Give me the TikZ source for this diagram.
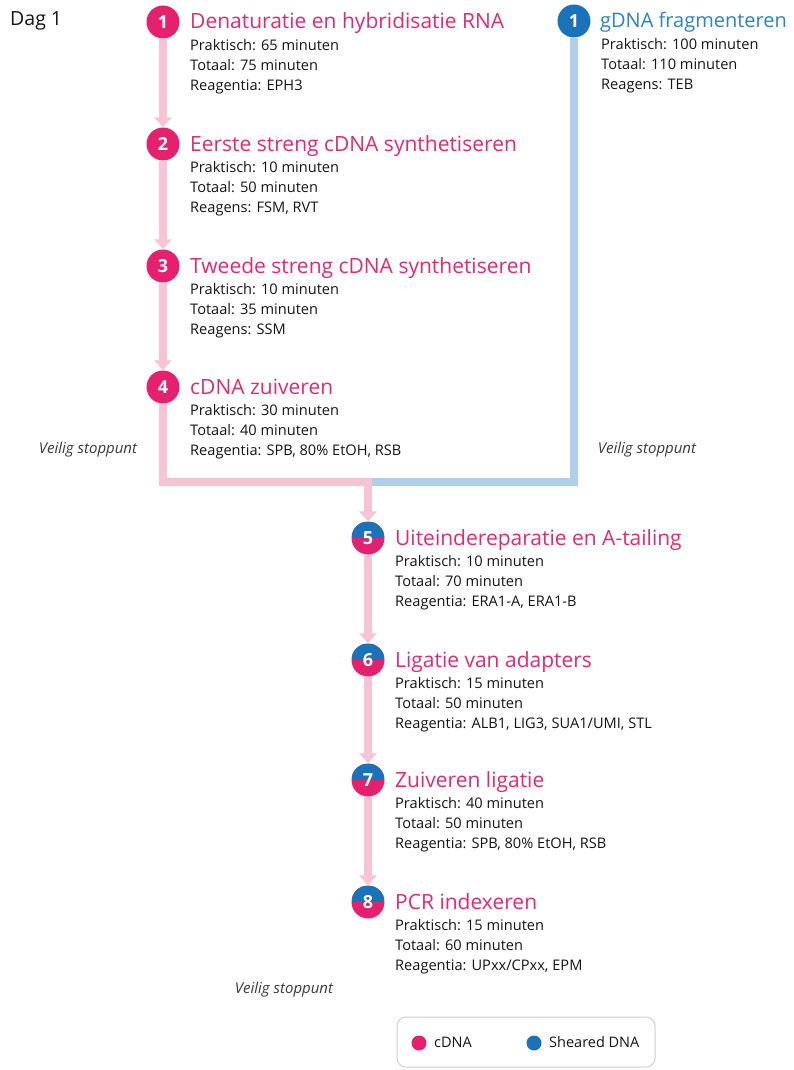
\documentclass[tikz,border=0pt]{standalone}
\usepackage{fontspec}
\setmainfont{Open Sans}
\usetikzlibrary{arrows.meta,backgrounds}
\definecolor{pinkC}{HTML}{E4206F}
\definecolor{blueC}{HTML}{1A73BA}
\definecolor{pinkT}{HTML}{DE2A74}
\definecolor{blueT}{HTML}{2B82C5}
\definecolor{pinkL}{HTML}{F7C4D4}
\definecolor{blueL}{HTML}{AFD0EC}
\definecolor{txt}{HTML}{141414}
\definecolor{graytxt}{HTML}{3A3A3A}
\definecolor{legbord}{HTML}{D0D0D0}
\tikzset{
  numc/.style={circle, minimum size=33pt, inner sep=0pt, text=white, font=\fontsize{18}{18}\selectfont\bfseries},
  pinkcirc/.style={numc, fill=pinkC},
  bluecirc/.style={numc, fill=blueC},
  halfcirc/.style={numc, fill=pinkC, path picture={\fill[blueC] (path picture bounding box.north west) rectangle (path picture bounding box.east);}},
  titletxt/.style={anchor=base west, inner sep=0pt, font=\fontsize{21}{21}\selectfont},
  pinktitle/.style={text=pinkT},
  bluetitle/.style={text=blueT, font=\fontsize{20}{20}\selectfont, xshift=-1pt},
  detailtxt/.style={anchor=north west, inner sep=0pt, align=left, text=txt, font=\fontsize{14.6}{20}\selectfont},
  pinkline/.style={draw=pinkL, line width=8pt, line join=miter},
  blueline/.style={draw=blueL, line width=8pt, line join=miter},
  arr/.style={-{Triangle[width=17pt,length=10pt]}},
  stoptxt/.style={text=graytxt, font=\fontsize{15}{15}\selectfont\itshape, inner sep=0pt},
  legtxt/.style={anchor=west, inner sep=0pt, text=txt, font=\fontsize{14.5}{14}\selectfont},
  legdot/.style={circle, minimum size=15pt, inner sep=0pt},
}
\newcommand{\stepnode}[9]{%
  \node[#4] (#1) at (#2,#3) {#5};
  \node[titletxt, #6] (#1t) at (#2+27,#3+7) {#7};
  \node[detailtxt] (#1d) at (#2+27,#3+17) {#8\\#9};
}
\begin{document}
\begin{tikzpicture}[x=1pt,y=-1pt]
\useasboundingbox (0,0) rectangle (794,1070);
\node[anchor=west, inner sep=0pt, text=txt, font=\fontsize{19.5}{19.5}\selectfont] (dag) at (10,21) {Dag 1};

\stepnode{c1}{163}{22}{pinkcirc}{1}{pinktitle}{Denaturatie en hybridisatie RNA}{Praktisch: 65 minuten\\Totaal: 75 minuten}{Reagentia: EPH3}
\stepnode{c2}{163}{144}{pinkcirc}{2}{pinktitle}{Eerste streng cDNA synthetiseren}{Praktisch: 10 minuten\\Totaal: 50 minuten}{Reagens: FSM, RVT}
\stepnode{c3}{163}{266}{pinkcirc}{3}{pinktitle}{Tweede streng cDNA synthetiseren}{Praktisch: 10 minuten\\Totaal: 35 minuten}{Reagens: SSM}
\stepnode{c4}{163}{387}{pinkcirc}{4}{pinktitle}{cDNA zuiveren}{Praktisch: 30 minuten\\Totaal: 40 minuten}{Reagentia: SPB, 80\% EtOH, RSB}
\stepnode{b1}{574}{21}{bluecirc}{1}{bluetitle}{gDNA fragmenteren}{Praktisch: 100 minuten\\Totaal: 110 minuten}{Reagens: TEB}
\stepnode{c5}{368}{538}{halfcirc}{5}{pinktitle}{Uiteindereparatie en A-tailing}{Praktisch: 10 minuten\\Totaal: 70 minuten}{Reagentia: ERA1-A, ERA1-B}
\stepnode{c6}{368}{660}{halfcirc}{6}{pinktitle}{Ligatie van adapters}{Praktisch: 15 minuten\\Totaal: 50 minuten}{Reagentia: ALB1, LIG3, SUA1/UMI, STL}
\stepnode{c7}{368}{780}{halfcirc}{7}{pinktitle}{Zuiveren ligatie}{Praktisch: 40 minuten\\Totaal: 50 minuten}{Reagentia: SPB, 80\% EtOH, RSB}
\stepnode{c8}{368}{902}{halfcirc}{8}{pinktitle}{PCR indexeren}{Praktisch: 15 minuten\\Totaal: 60 minuten}{Reagentia: UPxx/CPxx, EPM}

\coordinate (m) at (368,482);

\node[stoptxt] (s1) at (88,450) {Veilig stoppunt};
\node[stoptxt] (s2) at (647,450) {Veilig stoppunt};
\node[stoptxt] (s3) at (284,990) {Veilig stoppunt};

\draw[legbord, line width=1pt, rounded corners=9pt] (397,1017) rectangle (655,1067);
\node[legdot, fill=pinkC] (lp) at (419,1043) {};
\node[legtxt] (lpt) at (434,1042) {cDNA};
\node[legdot, fill=blueC] (lb) at (534,1043) {};
\node[legtxt] (lbt) at (549,1042) {Sheared DNA};

\begin{scope}[on background layer]
  \draw[blueline] (b1.south) |- (m);
  \draw[pinkline, arr] (c1) -- (c2);
  \draw[pinkline, arr] (c2) -- (c3);
  \draw[pinkline, arr] (c3) -- (c4);
  \draw[pinkline, arr] (c4.south) |- (m) -- (c5);
  \draw[pinkline, arr] (c5) -- (c6);
  \draw[pinkline, arr] (c6) -- (c7);
  \draw[pinkline, arr] (c7) -- (c8);
\end{scope}
\end{tikzpicture}
\end{document}
